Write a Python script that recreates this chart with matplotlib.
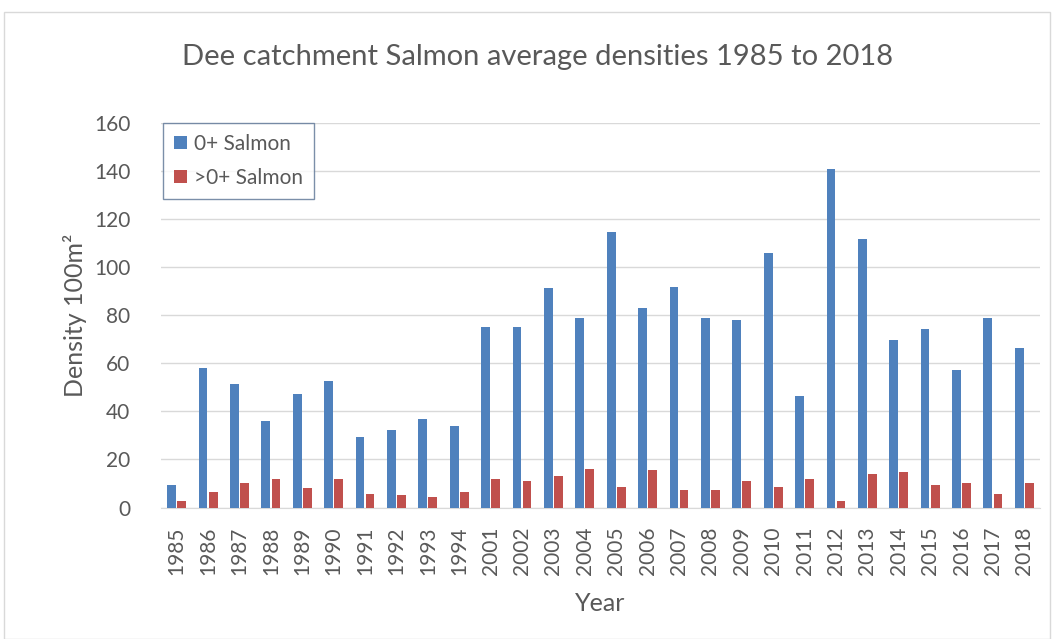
from matplotlib import pyplot as plt
from matplotlib.patches import Rectangle
import numpy as np

plt.rcParams['font.family'] = ['Lato', 'DejaVu Sans']

years = ['1985', '1986', '1987', '1988', '1989', '1990', '1991', '1992', '1993', '1994',
         '2001', '2002', '2003', '2004', '2005', '2006', '2007', '2008', '2009', '2010',
         '2011', '2012', '2013', '2014', '2015', '2016', '2017', '2018']
# 0+ salmon
fry = [9.3, 58.1, 51.5, 36.1, 47.0, 52.8, 29.3, 32.3, 36.8, 33.7,
       74.9, 74.9, 91.1, 78.6, 114.7, 83.1, 91.8, 78.6, 77.9, 105.8,
       46.2, 140.6, 111.8, 69.8, 74.2, 57.3, 78.6, 66.2]
# >0+ salmon
parr = [2.8, 6.5, 10.3, 11.8, 8.2, 11.8, 5.8, 5.0, 4.4, 6.5,
        11.8, 11.0, 13.2, 16.2, 8.6, 15.4, 7.4, 7.4, 11.0, 8.6,
        11.8, 2.9, 13.9, 14.6, 9.4, 10.3, 5.8, 10.3]

blue = '#4F81BD'
red = '#C0504D'
txt = '#595959'

fig = plt.figure(figsize=(10.57, 6.39), dpi=100)
fig.patches.append(Rectangle((4/1057, 0), 1046/1057, 1 - 12/639, transform=fig.transFigure,
                             fill=False, edgecolor='#d9d9d9', linewidth=1))
ax = fig.add_axes([161/1057, 1 - 507.5/639, 879/1057, 384.8/639])

x = np.arange(len(years))
w = 0.28
ax.bar(x - 0.16, fry, w, color=blue, label='0+ Salmon', zorder=3)
ax.bar(x + 0.16, parr, w, color=red, label='>0+ Salmon', zorder=3)

ax.set_xlim(-0.5, len(years) - 0.5)
ax.set_ylim(0, 160)
ax.set_yticks(range(0, 161, 20))
ax.set_xticks(x)
ax.set_xticklabels(years, rotation=90, fontsize=15, color=txt)
ax.tick_params(axis='y', labelsize=15, labelcolor=txt, length=0, pad=22)
ax.tick_params(axis='x', length=0, pad=14)
ax.grid(axis='y', color='#d9d9d9', linewidth=1, zorder=0)
for s in ['top', 'right', 'left']:
    ax.spines[s].set_visible(False)
ax.spines['bottom'].set_color('#d9d9d9')

ax.set_ylabel('Density 100m\u00b2', fontsize=18, color=txt, labelpad=5)
ax.set_xlabel('Year', fontsize=18, color=txt, labelpad=12)
fig.text(538/1057, 1 - 57/639, 'Dee catchment Salmon average densities 1985 to 2018',
         ha='center', va='center', fontsize=21, color=txt)

leg = ax.legend(loc='upper left', bbox_to_anchor=(0.002, 1.0), borderaxespad=0,
                fontsize=15, fancybox=False, frameon=True, handlelength=0.6,
                handleheight=0.6, handletextpad=0.35, labelspacing=0.65, borderpad=0.55)
leg.get_frame().set_edgecolor('#5a7394')
leg.get_frame().set_linewidth(1)
for t in leg.get_texts():
    t.set_color(txt)

plt.savefig('out.png')
